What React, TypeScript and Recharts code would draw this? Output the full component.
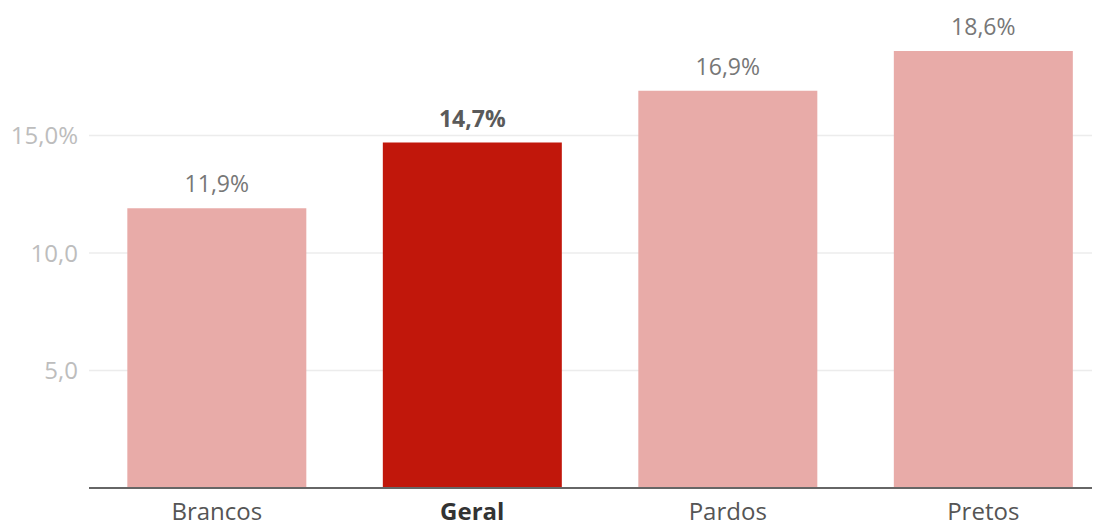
import { BarChart, Bar, XAxis, YAxis, CartesianGrid, Cell, LabelList } from 'recharts';

const categories = ['Brancos', 'Geral', 'Pardos', 'Pretos'];
const values = [11.9, 14.7, 16.9, 18.6];
const highlight = 'Geral';
const yTicks = [5, 10, 15];
const yTickLabels = ['5,0', '10,0', '15,0%'];

const data = categories.map((name, i) => ({ name, value: values[i] }));

const fmt = (v: number) => v.toFixed(1).replace('.', ',') + '%';
const font = "'Open Sans', sans-serif";

function CategoryTick(props: any) {
  const { x, y, payload } = props;
  const bold = payload.value === highlight;
  return (
    <text
      x={x}
      y={y}
      dy="0.71em"
      textAnchor="middle"
      fill={bold ? '#333' : '#555'}
      fontSize={24}
      fontWeight={bold ? 700 : 400}
      fontFamily={font}
    >
      {payload.value}
    </text>
  );
}

function ValueLabel(props: any) {
  const { x, y, width, value, index } = props;
  const bold = categories[index] === highlight;
  return (
    <text
      x={x + width / 2}
      y={y - 16}
      textAnchor="middle"
      fill={bold ? '#5a5a5a' : '#777'}
      fontSize={23}
      fontWeight={bold ? 700 : 400}
      fontFamily={font}
    >
      {fmt(value)}
    </text>
  );
}

export default function App() {
  return (
    <div style={{ margin: -8, width: 1100, height: 529, overflow: 'hidden', background: '#fff' }}>
      <BarChart
        width={1120}
        height={529}
        data={data}
        margin={{ top: 18, right: 9, bottom: 0, left: 0 }}
        barCategoryGap="15%"
      >
        <CartesianGrid vertical={false} horizontalValues={yTicks} stroke="#ececec" strokeWidth={1.5} />
        <YAxis
          width={89}
          domain={[0, 20]}
          ticks={yTicks}
          axisLine={false}
          tickLine={false}
          tickSize={0}
          tickMargin={11}
          tickFormatter={(v: number) => yTickLabels[yTicks.indexOf(v)]}
          tick={{ fill: '#bdbdbd', fontSize: 24, fontFamily: font }}
        />
        <XAxis
          dataKey="name"
          height={41}
          tickLine={false}
          tickSize={0}
          tickMargin={15}
          axisLine={{ stroke: '#666', strokeWidth: 2 }}
          tick={<CategoryTick />}
          interval={0}
        />
        <Bar dataKey="value" isAnimationActive={false}>
          {data.map((d, i) => (
            <Cell key={`cell-${i}`} fill={d.name === highlight ? '#c1170b' : '#e8aba8'} />
          ))}
          <LabelList dataKey="value" content={<ValueLabel />} />
        </Bar>
      </BarChart>
    </div>
  );
}
